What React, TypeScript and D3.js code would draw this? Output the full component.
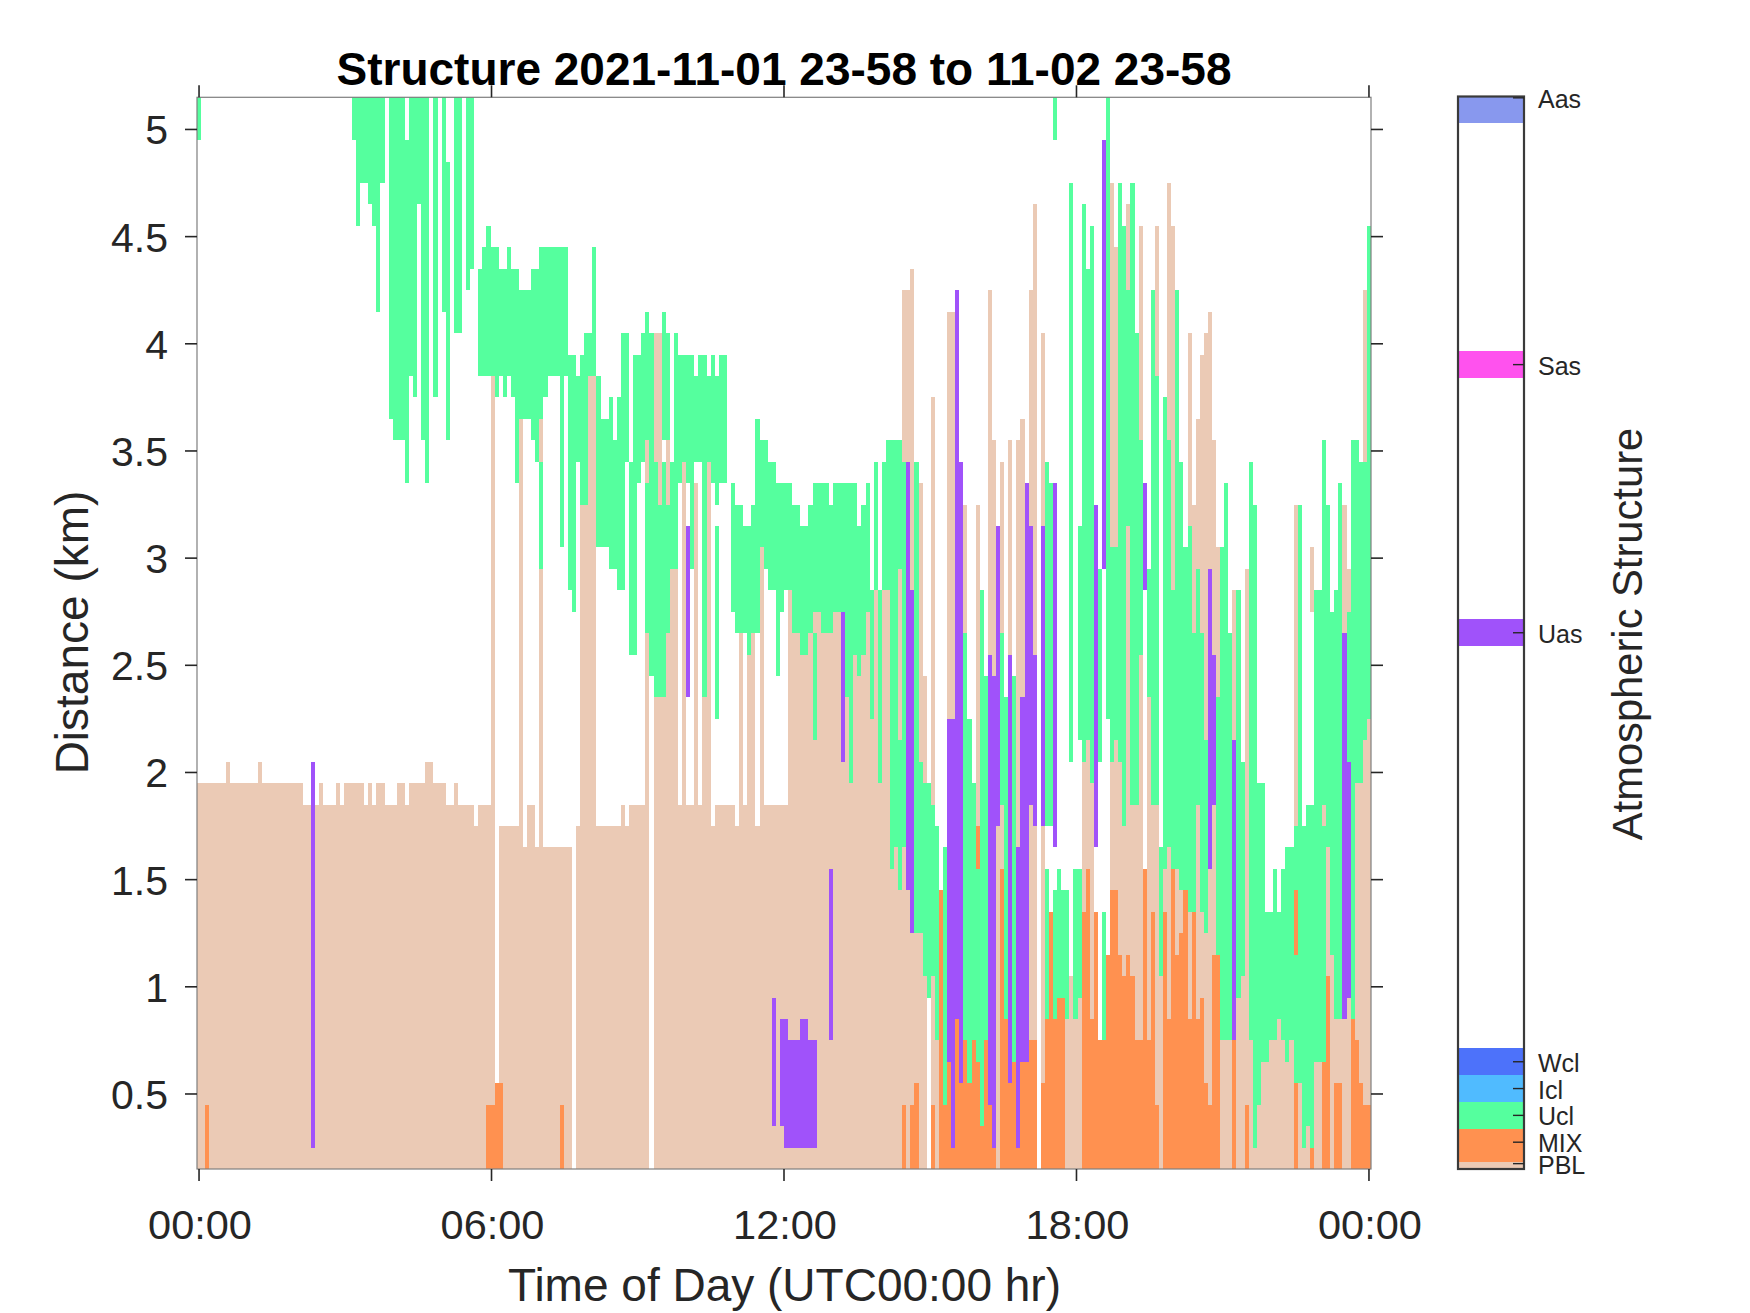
import React from "react";
import * as d3 from "d3";

// Range gates: a gate number g is the height 0.15 + 0.1 g km. One column per 5 minutes.
const pblTop = [
  18,18,18,18,18,18,18,19,18,18,18,18,
  18,18,18,19,18,18,18,18,18,18,18,18,
  18,18,17,17,17,17,18,17,17,17,18,17,
  18,18,18,18,18,17,18,17,18,18,17,17,
  17,18,18,17,18,18,18,18,19,19,18,18,
  18,17,17,18,17,17,17,17,16,17,17,17,
  37,0,16,16,16,16,16,35,15,17,17,15,
  28,15,15,15,15,15,15,15,0,16,31,31,
  37,37,16,16,16,16,16,16,17,16,17,17,
  17,17,25,0,39,39,22,25,28,28,17,33,
  17,17,32,17,22,33,16,17,17,17,17,17,
  16,25,17,24,25,16,29,17,17,17,17,17,
  17,27,25,25,24,24,25,25,26,25,25,25,
  26,26,26,22,18,24,23,24,26,21,27,18,
  27,27,14,15,13,41,41,42,11,32,23,0,
  36,6,0,3,40,40,0,0,31,0,0,31,
  0,0,41,34,16,33,0,34,0,34,35,0,
  41,45,0,39,0,0,0,0,0,7,9,7,
  8,19,20,18,0,0,0,0,46,43,19,16,
  45,17,17,44,0,22,17,44,9,14,46,44,
  14,13,13,39,31,35,38,39,40,34,29,6,
  6,6,27,8,9,28,6,1,3,5,5,6,
  6,7,6,5,6,31,4,1,2,1,5,5,
  5,15,10,7,7,31,28,7,18,18,41,21,
];

const uclLo = [
  48,0,0,0,0,0,0,0,0,0,0,0,
  0,0,0,0,0,0,0,0,0,0,0,0,
  0,0,0,0,0,0,0,0,0,0,0,0,
  0,0,48,44,46,46,45,44,40,46,0,35,
  34,34,34,32,37,36,45,34,32,0,36,0,
  40,34,0,39,39,0,41,42,0,37,37,37,
  37,36,37,36,37,36,32,35,35,35,34,33,
  28,36,37,37,37,29,37,27,26,33,31,31,
  37,37,29,29,29,28,28,27,27,33,24,24,
  32,33,25,23,22,22,22,25,28,28,32,33,
  32,28,33,33,22,33,32,31,32,32,0,26,
  25,25,25,24,25,25,29,28,27,27,23,26,
  27,27,25,25,24,24,25,20,26,25,25,25,
  26,26,26,22,18,24,23,24,26,21,27,18,
  27,27,14,15,13,15,0,0,11,11,9,8,
  9,6,0,3,0,0,0,0,6,4,6,5,
  2,6,0,0,0,17,7,0,5,0,0,0,
  0,0,0,0,16,16,7,8,8,7,19,7,
  20,19,20,18,0,19,6,21,19,20,19,16,
  30,17,17,24,0,22,17,17,9,14,15,14,
  14,13,13,12,12,17,12,11,0,0,10,6,
  6,6,0,8,9,0,6,1,3,5,5,6,
  6,7,6,5,6,4,4,1,2,1,5,5,
  5,15,10,7,7,0,19,7,18,18,20,21,
];

const uclHi = [
  50,0,0,0,0,0,0,0,0,0,0,0,
  0,0,0,0,0,0,0,0,0,0,0,0,
  0,0,0,0,0,0,0,0,0,0,0,0,
  0,0,50,50,50,50,50,50,50,50,0,50,
  50,50,50,48,50,50,50,50,50,0,50,0,
  50,47,0,50,50,0,50,50,0,42,43,44,
  43,43,42,42,43,42,42,41,41,41,42,42,
  43,43,43,43,43,43,43,38,38,37,38,39,
  39,43,37,35,35,36,34,36,39,39,33,38,
  38,39,40,39,33,31,33,39,33,39,38,38,
  38,38,37,38,38,37,38,37,38,38,0,32,
  31,31,30,30,31,35,34,34,33,33,32,32,
  32,32,31,31,30,30,31,32,32,32,32,31,
  32,32,32,32,32,32,30,31,32,27,33,27,
  33,34,34,34,34,33,0,0,33,19,18,18,
  17,16,0,15,0,0,0,0,25,21,18,14,
  27,23,0,0,0,25,22,0,23,0,0,0,
  0,0,0,0,33,32,13,14,13,13,46,14,
  30,45,42,44,0,28,12,50,29,29,46,44,
  41,46,39,34,0,28,41,37,15,36,34,27,
  41,33,29,30,25,28,25,20,0,0,22,29,
  32,25,0,27,19,0,33,31,18,18,12,12,
  14,12,14,15,15,16,31,16,17,17,27,27,
  34,31,26,27,32,0,26,34,34,33,33,44,
];

const mixTop = [
  0,0,3,0,0,0,0,0,0,0,0,0,
  0,0,0,0,0,0,0,0,0,0,0,0,
  0,0,0,0,0,0,0,0,0,0,0,0,
  0,0,0,0,0,0,0,0,0,0,0,0,
  0,0,0,0,0,0,0,0,0,0,0,0,
  0,0,0,0,0,0,0,0,0,0,0,3,
  3,4,4,0,0,0,0,0,0,0,0,0,
  0,0,0,0,0,3,0,0,0,0,0,0,
  0,0,0,0,0,0,0,0,0,0,0,0,
  0,0,0,0,0,0,0,0,0,0,0,0,
  0,0,0,0,0,0,0,0,0,0,0,0,
  0,0,0,0,0,0,0,0,0,0,0,0,
  0,0,0,0,0,0,0,0,0,0,0,0,
  0,0,0,0,0,0,0,0,0,0,0,0,
  0,0,0,0,0,3,0,3,4,0,0,0,
  3,0,13,3,5,4,7,4,6,4,6,5,
  2,6,3,1,0,14,7,4,5,5,5,5,
  6,6,0,4,7,12,7,8,8,0,0,0,
  0,12,14,7,12,6,6,10,13,13,10,9,
  10,9,6,6,14,6,12,3,0,12,7,14,
  10,11,13,7,12,7,8,4,3,10,10,0,
  0,0,6,0,0,3,0,0,0,0,0,0,
  0,0,0,0,0,4,0,0,0,1,0,0,
  5,9,0,4,4,0,0,7,6,4,3,3,
];

// column, lowest gate, highest gate
const uasCells = [
  [28,1,19],[120,22,30],[141,2,8],[143,2,7],[144,1,7],[145,1,6],[146,1,6],[147,1,6],
  [148,1,7],[149,1,7],[150,1,6],[151,1,6],[155,6,14],[158,19,26],[174,13,33],[175,11,27],
  [184,5,21],[185,1,21],[186,7,41],[187,4,33],[194,3,24],[195,1,23],[196,16,30],[199,4,24],
  [201,1,15],[202,5,22],[203,5,32],[204,17,30],[205,16,24],[207,16,30],[210,15,32],[220,15,31],
  [222,28,48],[232,27,32],[248,14,28],[249,17,24],[254,6,20],[281,7,25],[282,8,19],
];
const pblExtra = [[84,33,35],[110,32,34],[115,31,34],[151,25,26],[172,20,28],[273,26,29],[276,16,17]];
const uclExtra = [[114,34,40],[127,21,30],[208,7,14],[216,8,14],[210,48,50]];
const mixExtra = [[191,14,16],[269,10,13]];

const yTicks = [0.5, 1, 1.5, 2, 2.5, 3, 3.5, 4, 4.5, 5];
const yTickLabels = ["0.5", "1", "1.5", "2", "2.5", "3", "3.5", "4", "4.5", "5"];
const xTickHours = [0, 6, 12, 18, 24];
const xTickLabels = ["00:00", "06:00", "12:00", "18:00", "00:00"];

const barNames = ["PBL", "MIX", "Ucl", "Icl", "Wcl", "Uas", "Sas", "Aas"];
const barTicks = [0.2, 1, 2, 3, 4, 20, 30, 39.95];
const barLow = [0, 0.25, 1.5, 2.5, 3.5, 19.5, 29.5, 39];
const barHigh = [0.25, 1.5, 2.5, 3.5, 4.5, 20.5, 30.5, 40];

const PBL = "#EBCAB5";
const MIX = "#FF9150";
const UCL = "#55FF9E";
const UAS = "#A052FA";
const barColors = [PBL, MIX, UCL, "#50BBFF", "#4D72FA", UAS, "#FF52EE", "#8898EE"];

const INK = "#262626";
const FONT = "'Liberation Sans', Arial, sans-serif";
const COLS = 288;
const L = 197, R = 1371, T = 97.3, B = 1169;

const xCol = d3.scaleLinear().domain([0, COLS]).range([L, R]);
const xHour = d3.scaleLinear().domain([0, 24]).range([xCol(0.5), xCol(COLS - 0.5)]);
const y = d3.scaleLinear().domain([0.15, 5.15]).range([B, T]);
const gateKm = (g: number) => 0.15 + 0.1 * g;
const yBar = d3.scaleLinear().domain([0, 40]).range([1169, 96.5]);

function Cell({ c, lo, hi, fill }: { c: number; lo: number; hi: number; fill: string }) {
  if (hi <= lo) return null;
  return (
    <rect
      x={xCol(c)}
      width={xCol(c + 1) - xCol(c)}
      y={y(gateKm(hi))}
      height={y(gateKm(lo)) - y(gateKm(hi))}
      fill={fill}
      shapeRendering="crispEdges"
    />
  );
}

export default function App() {
  const cols = d3.range(COLS);
  return (
    <svg
      width={1750}
      height={1313}
      viewBox="0 0 1750 1313"
      style={{ position: "absolute", left: 0, top: 0, background: "#fff" }}
      fontFamily={FONT}
    >
      <g>
        {cols.map((c) => <Cell key={`p${c}`} c={c} lo={0} hi={pblTop[c]} fill={PBL} />)}
        {cols.map((c) => <Cell key={`u${c}`} c={c} lo={uclLo[c]} hi={uclHi[c]} fill={UCL} />)}
        {cols.map((c) => <Cell key={`m${c}`} c={c} lo={0} hi={mixTop[c]} fill={MIX} />)}
        {uasCells.map(([c, lo, hi]) => <Cell key={`v${c}`} c={c} lo={lo} hi={hi} fill={UAS} />)}
        {pblExtra.map(([c, lo, hi]) => <Cell key={`pe${c}`} c={c} lo={lo} hi={hi} fill={PBL} />)}
        {uclExtra.map(([c, lo, hi]) => <Cell key={`ue${c}-${lo}`} c={c} lo={lo} hi={hi} fill={UCL} />)}
        {mixExtra.map(([c, lo, hi]) => <Cell key={`me${c}`} c={c} lo={lo} hi={hi} fill={MIX} />)}
      </g>

      <rect x={L} y={T} width={R - L} height={B - T} fill="none" stroke="#7f7f7f" strokeWidth={1.2} />

      {xTickHours.map((h, i) => (
        <g key={`x${i}`}>
          <line x1={xHour(h)} x2={xHour(h)} y1={B} y2={B + 12} stroke={INK} strokeWidth={1.6} />
          <line x1={xHour(h)} x2={xHour(h)} y1={T} y2={T - 12} stroke={INK} strokeWidth={1.6} />
          <text x={xHour(h) + 1} y={1239} textAnchor="middle" fontSize={41.5} fill={INK}>{xTickLabels[i]}</text>
        </g>
      ))}
      {yTicks.map((v, i) => (
        <g key={`y${i}`}>
          <line x1={L} x2={L - 12} y1={y(v)} y2={y(v)} stroke={INK} strokeWidth={1.6} />
          <line x1={R} x2={R + 12} y1={y(v)} y2={y(v)} stroke={INK} strokeWidth={1.6} />
          <text x={168} y={y(v) + 15} textAnchor="end" fontSize={41} fill={INK}>{yTickLabels[i]}</text>
        </g>
      ))}

      <text x={784} y={84.5} textAnchor="middle" fontSize={46} fontWeight="bold" fill="#000">
        Structure 2021-11-01 23-58 to 11-02 23-58
      </text>
      <text x={784.5} y={1301} textAnchor="middle" fontSize={46} fill={INK}>Time of Day (UTC00:00 hr)</text>
      <text transform="translate(87.5,632.5) rotate(-90)" textAnchor="middle" fontSize={46} fill={INK}>Distance (km)</text>

      <g>
        {barNames.map((n, i) => (
          <rect
            key={`b${n}`}
            x={1458}
            width={66}
            y={yBar(barHigh[i])}
            height={yBar(barLow[i]) - yBar(barHigh[i])}
            fill={barColors[i]}
            shapeRendering="crispEdges"
          />
        ))}
        <rect x={1458} y={96.5} width={66} height={1072.5} fill="none" stroke="#3a3a3a" strokeWidth={2.2} />
        {barNames.map((n, i) => (
          <g key={`t${n}`}>
            <line x1={1513} x2={1524} y1={yBar(barTicks[i])} y2={yBar(barTicks[i])} stroke={INK} strokeWidth={1.4} />
            <text x={1538} y={yBar(barTicks[i]) + 10} fontSize={25} fill={INK}>{n}</text>
          </g>
        ))}
      </g>
      <text transform="translate(1641.5,634) rotate(-90)" textAnchor="middle" fontSize={41.7} fill={INK}>Atmospheric Structure</text>
    </svg>
  );
}
